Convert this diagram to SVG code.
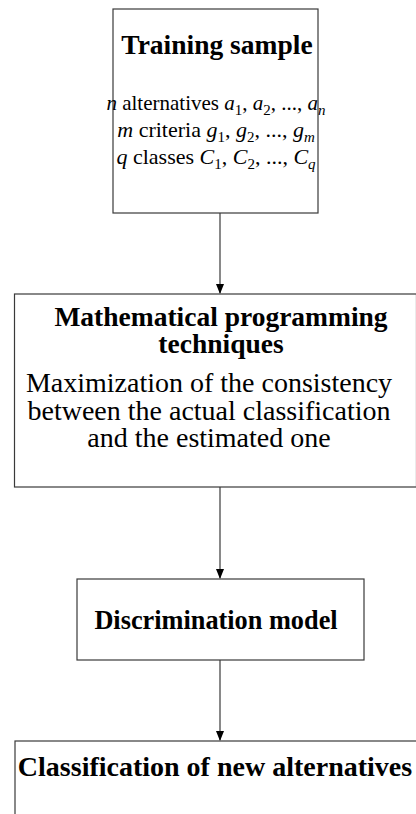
<svg xmlns="http://www.w3.org/2000/svg" width="416" height="814" viewBox="0 0 416 814">
<style>
.box{fill:#fff;stroke:#3a3a3a;stroke-width:1.2}
.t{font-family:"Liberation Serif","Times New Roman",serif;font-size:28px;fill:#000;text-anchor:middle}
.b{font-weight:bold;font-size:27.5px}
.m{font-size:22px}
.i{font-style:italic}
.s{font-size:15px}
.conn line{stroke:#3a3a3a;stroke-width:1.2}
</style>
<defs>
<marker id="ah" markerWidth="10" markerHeight="10" refX="9" refY="5" orient="auto" markerUnits="userSpaceOnUse">
<path d="M0,1 L10,5 L0,9 Z" fill="#000"/>
</marker>
</defs>
<rect width="416" height="814" fill="#fff"/>
<g id="n1">
<rect class="box" x="113" y="9" width="205" height="204"/>
<text class="t b" x="217" y="54">Training sample</text>
<text class="t m" x="216" y="110" style="font-size:21px"><tspan class="i">n</tspan> alternatives <tspan class="i">a</tspan><tspan class="s" dy="5">1</tspan><tspan dy="-5">, </tspan><tspan class="i">a</tspan><tspan class="s" dy="5">2</tspan><tspan dy="-5">, ..., </tspan><tspan class="i">a</tspan><tspan class="s i" dy="5">n</tspan></text>
<text class="t m" x="216" y="137"><tspan class="i">m</tspan> criteria <tspan class="i">g</tspan><tspan class="s" dy="5">1</tspan><tspan dy="-5">, </tspan><tspan class="i">g</tspan><tspan class="s" dy="5">2</tspan><tspan dy="-5">, ..., </tspan><tspan class="i">g</tspan><tspan class="s i" dy="5">m</tspan></text>
<text class="t m" x="216" y="164"><tspan class="i">q</tspan> classes <tspan class="i">C</tspan><tspan class="s" dy="5">1</tspan><tspan dy="-5">, </tspan><tspan class="i">C</tspan><tspan class="s" dy="5">2</tspan><tspan dy="-5">, ..., </tspan><tspan class="i">C</tspan><tspan class="s i" dy="5">q</tspan></text>
</g>
<g id="n2">
<rect class="box" x="14.5" y="294" width="402" height="193"/>
<text class="t b" x="221" y="326">Mathematical programming</text>
<text class="t b" x="221" y="353">techniques</text>
<text class="t" x="209" y="392">Maximization of the consistency</text>
<text class="t" x="209" y="420">between the actual classification</text>
<text class="t" x="209" y="447">and the estimated one</text>
</g>
<g id="n3">
<rect class="box" x="77" y="579" width="287" height="81"/>
<text class="t b" x="216" y="629" style="font-size:26.3px">Discrimination model</text>
</g>
<g id="n4">
<rect class="box" x="15" y="741" width="402" height="80"/>
<text class="t b" x="215" y="776" style="font-size:28px">Classification of new alternatives</text>
</g>
<g class="conn">
<line x1="220" y1="213" x2="220" y2="293" marker-end="url(#ah)"/>
<line x1="220" y1="487" x2="220" y2="578" marker-end="url(#ah)"/>
<line x1="220" y1="660" x2="220" y2="740" marker-end="url(#ah)"/>
</g>
</svg>
